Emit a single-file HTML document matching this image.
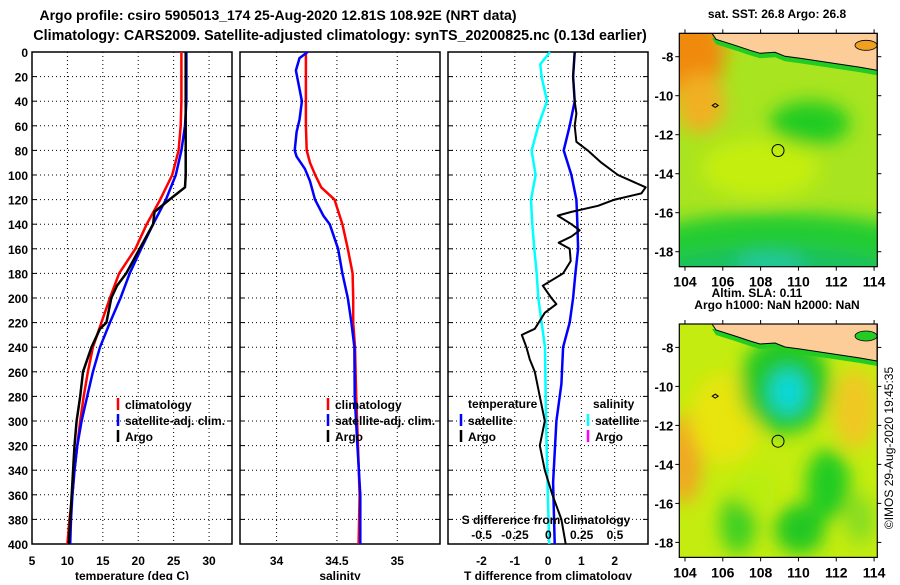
<!DOCTYPE html>
<html><head><meta charset="utf-8"><style>
html,body{margin:0;padding:0;background:#fff;}
svg text{font-family:"Liberation Sans",Arial,sans-serif;font-weight:bold;fill:#000;}
</style></head><body>
<svg id="chart" width="900" height="580" viewBox="0 0 900 580" xmlns="http://www.w3.org/2000/svg">
<defs>
<filter id="blur8" x="-50%" y="-50%" width="200%" height="200%"><feGaussianBlur stdDeviation="9"/></filter>
<clipPath id="clipMap1"><rect x="679" y="33" width="198" height="234"/></clipPath>
<clipPath id="clipMap2"><rect x="679" y="324" width="198" height="234"/></clipPath>
</defs>
<text x="278" y="20" font-size="14" text-anchor="middle">Argo profile: csiro 5905013_174 25-Aug-2020 12.81S 108.92E (NRT data)</text>
<text x="340" y="40" font-size="14.3" text-anchor="middle">Climatology: CARS2009. Satellite-adjusted climatology: synTS_20200825.nc (0.13d earlier)</text>
<g id="panels"></g>
<g id="maps"></g>
<text transform="translate(893,448) rotate(-90)" font-size="12" text-anchor="middle" style="font-weight:normal">©IMOS 29-Aug-2020 19:45:35</text>
</svg>
<script>
// ---- Data ----
const depthTicks = [0,20,40,60,80,100,120,140,160,180,200,220,240,260,280,300,320,340,360,380,400];
const tempTicks = [5,10,15,20,25,30];
const salTicks = [34,34.5,35];
const salTickLabels = ["34","34.5","35"];
const tdiffTicks = [-2,-1,0,1,2];
const sdiffTicks = [-0.5,-0.25,0,0.25,0.5];
const sdiffTickLabels = ["-0.5","-0.25","0","0.25","0.5"];

const tempClimDepth = [0,20,40,60,80,100,120,140,160,180,200,220,240,260,280,300,320,340,360,380,400];
const tempClim      = [26.1,26.1,26.1,26.0,25.7,24.8,23.1,21.2,19.6,17.3,16.0,14.8,13.6,12.9,12.3,11.8,11.4,11.0,10.7,10.3,10.0];
const tempSatDepth  = [0,20,40,60,80,100,120,140,160,180,200,220,240,260,280,300,320,340,360,380,400];
const tempSat       = [26.8,26.8,26.8,26.6,26.1,25.3,23.9,22.1,20.4,18.8,17.5,16.0,14.6,13.6,12.8,12.0,11.4,11.0,10.7,10.5,10.4];
const tempArgoDepth = [0,20,40,60,80,100,110,120,130,140,160,180,190,200,220,225,240,260,280,300,320,340,360,380,400];
const tempArgo      = [26.7,26.7,26.7,26.7,26.7,26.7,26.6,24.4,22.3,22.1,20.2,18.3,17.0,16.2,15.5,14.6,13.4,12.2,11.8,11.3,11.0,10.8,10.6,10.4,10.2];

const salClimDepth = [0,20,40,60,80,90,100,110,120,140,160,180,200,220,240,280,320,360,400];
const salClim      = [34.243,34.243,34.243,34.243,34.25,34.277,34.32,34.37,34.48,34.545,34.59,34.63,34.635,34.635,34.65,34.66,34.675,34.688,34.68];
const salSatDepth  = [0,5,15,30,40,55,65,80,85,95,105,120,133,140,160,180,200,220,240,280,320,360,400];
const salSat       = [34.257,34.19,34.16,34.19,34.21,34.19,34.166,34.15,34.166,34.235,34.277,34.318,34.387,34.44,34.51,34.545,34.59,34.62,34.645,34.647,34.67,34.694,34.694];

const dTDepth     = [0,20,40,60,80,100,120,140,160,180,200,220,240,270,300,350,400];
const dTSat       = [0.8,0.75,0.8,0.65,0.47,0.7,0.85,0.88,0.9,0.82,0.75,0.65,0.45,0.4,0.25,0.15,0.2];
const dTArgoDepth = [0,20,40,50,60,73,80,90,100,110,115,120,125,130,133,140,145,150,155,160,170,180,190,200,205,212,225,230,240,250,260,280,300,320,340,360,380,400];
const dTArgo      = [0.8,0.75,0.8,0.85,0.8,0.85,1.19,1.6,2.1,2.93,2.8,2.0,1.5,0.7,0.29,0.7,0.95,0.7,0.32,0.65,0.68,0.45,-0.16,0.1,0.25,-0.1,-0.4,-0.79,-0.65,-0.55,-0.4,-0.25,-0.1,-0.25,-0.1,0.13,0.4,0.53];
const dSDepth     = [0,10,20,40,60,80,100,120,140,160,180,200,220,240,300,350,400];
const dSSat       = [0.013,-0.06,-0.05,-0.01,-0.075,-0.125,-0.095,-0.13,-0.12,-0.105,-0.087,-0.075,-0.05,-0.025,-0.017,-0.006,0.007];

const lonTicks = [104,106,108,110,112,114];
const latTicks = [-8,-10,-12,-14,-16,-18];
const argoLon = [108.92];
const argoLat = [-12.81];

// ---- Helpers ----
const NS="http://www.w3.org/2000/svg";
function mk(tag,attrs,parent){const e=document.createElementNS(NS,tag);for(const k in attrs)e.setAttribute(k,attrs[k]);parent.appendChild(e);return e;}
const top0=52, bot0=544;
const yD = d => top0 + (d/400)*(bot0-top0);
const panels=document.getElementById('panels');

function drawPanel(name,x0,x1,vmin,vmax,ticks,labels,xlabel,showY){
  const g=mk('g',{},panels);
  
  
  const sx=v=>x0+(v-vmin)/(vmax-vmin)*(x1-x0);
  depthTicks.forEach((d,i)=>{
    if(i>0&&i<depthTicks.length-1){
      const l=mk('line',{x1:x0,x2:x1,y1:yD(d),y2:yD(d),stroke:'#000','stroke-width':1,'stroke-dasharray':'1,3'},g);
      
      
      mk('line',{x1:x0,x2:x0+5,y1:yD(d),y2:yD(d),stroke:'#000','stroke-width':1},g);
      mk('line',{x1:x1-5,x2:x1,y1:yD(d),y2:yD(d),stroke:'#000','stroke-width':1},g);
    }
    if(showY){
      const t=mk('text',{x:x0-4,y:yD(d)+5,'font-size':12,'text-anchor':'end'},g);
      t.textContent=d;
      
      
    }
  });
  ticks.forEach((v,i)=>{
    const x=sx(v);
    if(x>x0+1&&x<x1-1){
      const l=mk('line',{x1:x,x2:x,y1:top0,y2:bot0,stroke:'#000','stroke-width':1,'stroke-dasharray':'1,3'},g);
      
      
    }
    const t=mk('text',{x:x,y:565,'font-size':12,'text-anchor':'middle'},g);
    t.textContent=labels?labels[i]:v;
    
    
  });
  const r=mk('rect',{x:x0,y:top0,width:x1-x0,height:bot0-top0,fill:'none',stroke:'#000','stroke-width':1.5},g);
  
  
  const xt=mk('text',{x:(x0+x1)/2,y:580,'font-size':12,'text-anchor':'middle'},g);
  xt.textContent=xlabel;
  
  
  return {g,sx};
}
function series(p,vals,depths,color,w,name){
  const pts=vals.map((v,i)=>p.sx(v).toFixed(1)+','+yD(depths[i]).toFixed(1)).join(' ');
  const pl=mk('polyline',{points:pts,fill:'none',stroke:color,'stroke-width':w,'stroke-linejoin':'round'},p.g);
  
  
}
function legend(g,x,y,color,label,name){
  mk('line',{x1:x,x2:x,y1:y-11,y2:y+1,stroke:color,'stroke-width':2.5},g);
  const t=mk('text',{x:x+7,y:y,'font-size':12},g);
  t.textContent=label;
  
  
}

const pT=drawPanel('temperature',32,232,5,33.24,tempTicks,null,'temperature (deg C)',true);
series(pT,tempClim,tempClimDepth,'#ff0000',2.5,'temp-climatology-line');
series(pT,tempSat,tempSatDepth,'#0000ff',2.5,'temp-satellite-line');
series(pT,tempArgo,tempArgoDepth,'#000000',2.5,'temp-argo-line');
legend(pT.g,118,409,'#ff0000','climatology','legend-climatology');
legend(pT.g,118,425,'#0000ff','satellite-adj. clim.','legend-satellite');
legend(pT.g,118,441,'#000000','Argo','legend-argo');

const pS=drawPanel('salinity',240,440,33.697,35.354,salTicks,salTickLabels,'salinity',false);
series(pS,salClim,salClimDepth,'#ff0000',2.5,'sal-climatology-line');
series(pS,salSat,salSatDepth,'#0000ff',2.5,'sal-satellite-line');
legend(pS.g,328,409,'#ff0000','climatology','legend-climatology-sal');
legend(pS.g,328,425,'#0000ff','satellite-adj. clim.','legend-satellite-sal');
legend(pS.g,328,441,'#000000','Argo','legend-argo-sal');

const pD=drawPanel('difference',448,648,-3.005,3.0,tdiffTicks,null,'T difference from climatology',false);
const pDS={g:pD.g,sx:v=>548.3+v*133.3};
series(pDS,dSSat,dSDepth,'#00ffff',2.5,'s-diff-satellite-line');
series(pD,dTSat,dTDepth,'#0000ff',2.5,'t-diff-satellite-line');
series(pD,dTArgo,dTArgoDepth,'#000000',2,'t-diff-argo-line');
{const t=mk('text',{x:468,y:408,'font-size':12},pD.g);t.textContent='temperature';

}
{const t=mk('text',{x:593,y:408,'font-size':12},pD.g);t.textContent='salinity';

}
legend(pD.g,461,425,'#0000ff','satellite','legend-t-satellite');
legend(pD.g,461,441,'#000000','Argo','legend-t-argo');
legend(pD.g,588,425,'#00ffff','satellite','legend-s-satellite');
legend(pD.g,588,441,'#ff00ff','Argo','legend-s-argo');
{const t=mk('text',{x:546,y:524,'font-size':12,'text-anchor':'middle'},pD.g);t.textContent='S difference from climatology';

}
sdiffTicks.forEach((v,i)=>{const t=mk('text',{x:pDS.sx(v),y:539,'font-size':12,'text-anchor':'middle'},pD.g);t.textContent=sdiffTickLabels[i];

});

// ---- Maps ----
const maps=document.getElementById('maps');
const mx0=679.3,mx1=877.3,lon0=103.7,lon1=114.17;
function drawMap(name,yTop,blobs,base,title,titleY){
  const g=mk('g',{},maps);
  
  
  const yBot=yTop+233.4;
  const sx=lon=>mx0+(lon-lon0)/(lon1-lon0)*(mx1-mx0);
  const sy=lat=>yTop+(-6.8-lat)*19.5;
  const clip=yTop<100?'url(#clipMap1)':'url(#clipMap2)';
  const cg=mk('g',{'clip-path':clip},g);
  mk('rect',{x:mx0,y:yTop,width:mx1-mx0,height:yBot-yTop,fill:base},cg);
  const bg=mk('g',{filter:'url(#blur8)'},cg);
  blobs.forEach(b=>mk('ellipse',{cx:b[0],cy:yTop+b[1],rx:b[2],ry:b[3],fill:b[4]},bg));
  const coast=[[679,0],[712,0],[716,6],[735,12],[750,17],[760,20],[775,19],[785,23],[800,25],[820,28],[840,31],[860,34],[877,37],[877,0]];
  const strip=coast.map(p=>[p[0],p[1]+5]);
  mk('polygon',{points:strip.map(p=>p[0]+','+(yTop+p[1])).join(' '),fill:'#22cc22'},cg);
  const land=mk('polygon',{points:coast.map(p=>p[0]+','+(yTop+p[1])).join(' '),fill:'#fccc99',stroke:'#000','stroke-width':1},cg);
  
  
  mk('ellipse',{cx:866,cy:yTop+12,rx:11,ry:5,fill:yTop<100?'#f0a020':'#22cc22',stroke:'#000','stroke-width':0.8},cg);
  mk('path',{d:`M${sx(105.6)-3},${sy(-10.5)} l3,-2 l3,2 l-3,2z`,fill:'none',stroke:'#000','stroke-width':1},cg);
  const c=mk('circle',{cx:sx(argoLon[0]),cy:sy(argoLat[0]),r:6,fill:'none',stroke:'#000','stroke-width':1},g);
  
  
  mk('rect',{x:mx0,y:yTop,width:mx1-mx0,height:yBot-yTop,fill:'none',stroke:'#000','stroke-width':1.2},g);
  latTicks.forEach(l=>{
    mk('line',{x1:mx0-4,x2:mx0,y1:sy(l),y2:sy(l),stroke:'#000'},g);
    mk('line',{x1:mx1,x2:mx1+4,y1:sy(l),y2:sy(l),stroke:'#000'},g);
    const t=mk('text',{x:mx0-6,y:sy(l)+5,'font-size':13,'text-anchor':'end'},g);t.textContent=l;
    
    
  });
  lonTicks.forEach(l=>{
    mk('line',{x1:sx(l),x2:sx(l),y1:yBot,y2:yBot+4,stroke:'#000'},g);
    mk('line',{x1:sx(l),x2:sx(l),y1:yTop-4,y2:yTop,stroke:'#000'},g);
    const t=mk('text',{x:sx(l),y:yBot+20,'font-size':14,'text-anchor':'middle'},g);t.textContent=l;
    
    
  });
  const tt=mk('text',{x:777,y:titleY,'font-size':12,'text-anchor':'middle'},g);tt.textContent=title;
  
  
  return g;
}
drawMap('sst-map',33.3,[
 [690,20,35,45,'#f08a10'],[700,70,25,30,'#f0b020'],[810,90,40,22,'#22cc22'],[760,135,60,30,'#c4ee10'],
 [780,210,140,30,'#22cc33'],[775,240,120,25,'#1cc060'],[770,232,35,12,'#20c8a0']
],'#a8e420','sat. SST: 26.8 Argo: 26.8',18);
drawMap('sla-map',324,[
 [684,135,18,45,'#f0a820'],[725,95,35,45,'#e8e410'],[785,60,45,50,'#22c828'],[788,68,18,22,'#10d8d8'],
 [855,85,22,40,'#f0c820'],[828,160,22,35,'#22cc22'],[738,200,18,30,'#40d020'],[800,205,25,25,'#22c822'],
 [755,165,20,20,'#b8ee10'],[860,195,15,25,'#88dd20']
],'#c4ec10','Argo h1000: NaN h2000: NaN',309);
{const t=mk('text',{x:757,y:297,'font-size':12,'text-anchor':'middle'},maps);t.textContent='Altim. SLA: 0.11';

}
</script>
</body></html>
